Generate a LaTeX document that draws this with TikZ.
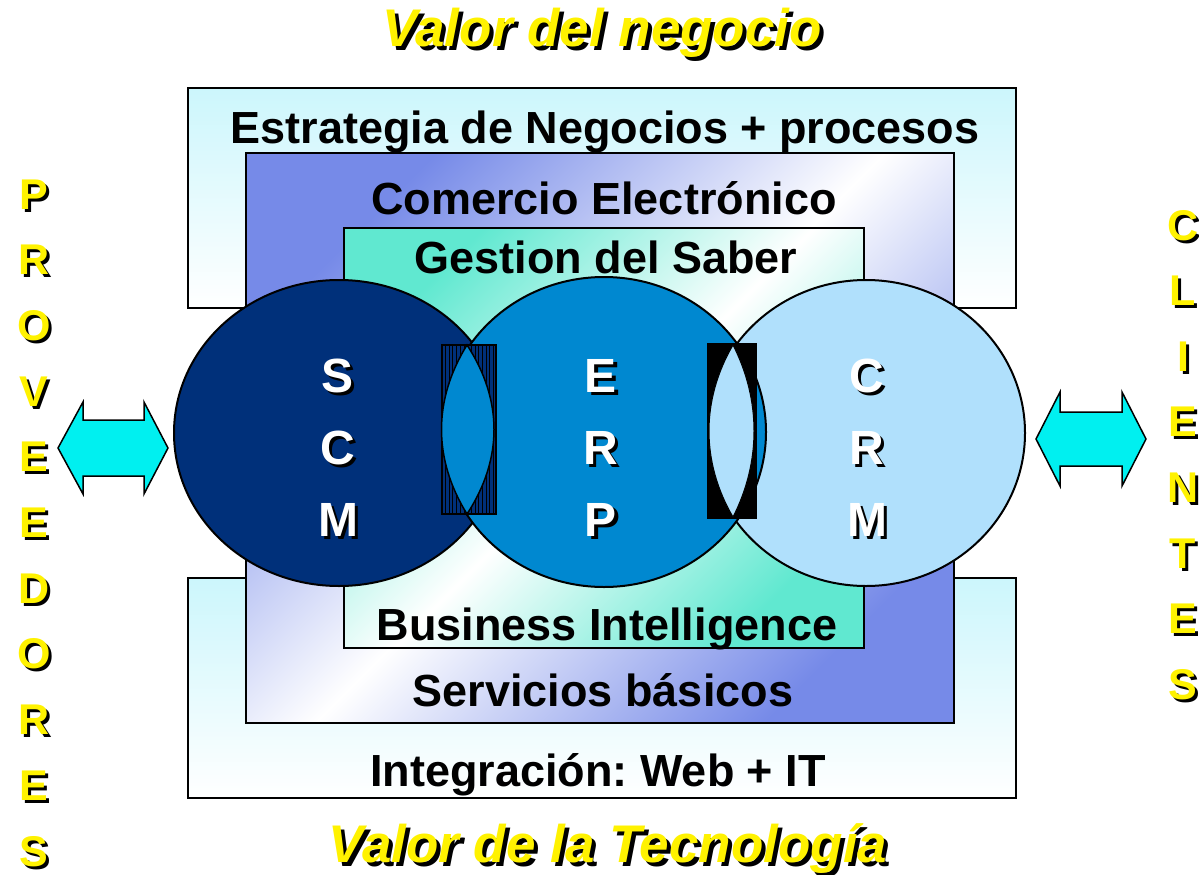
\documentclass[tikz,border=0pt]{standalone}
\usepackage{fontspec}
\setmainfont{Liberation Sans}
\frenchspacing
\definecolor{navy}{RGB}{0,48,122}
\definecolor{erpblue}{RGB}{0,136,208}
\definecolor{crmblue}{RGB}{176,224,252}
\definecolor{outercyan}{RGB}{204,246,252}
\definecolor{midblue}{RGB}{118,138,232}
\definecolor{tealc}{RGB}{96,232,208}
\definecolor{arrowcyan}{RGB}{0,240,240}
\tikzset{
  boxline/.style={draw=black, line width=2pt},
  boxtext/.style={font=\fontsize{45}{45}\selectfont\bfseries, anchor=base, inner sep=0pt},
  circline/.style={draw=black, line width=2pt},
  letw/.style={font=\fontsize{48}{48}\selectfont\bfseries, text=white, anchor=base, inner sep=0pt},
  lets/.style={font=\fontsize{48}{48}\selectfont\bfseries, text=black, anchor=base, inner sep=0pt},
  sidey/.style={font=\fontsize{43}{43}\selectfont\bfseries, text=yellow, anchor=base, inner sep=0pt},
  sides/.style={font=\fontsize{43}{43}\selectfont\bfseries, text=black, anchor=base, inner sep=0pt},
  titley/.style={font=\fontsize{53}{53}\selectfont\bfseries\itshape, text=yellow, anchor=base, inner sep=0pt},
  titles/.style={font=\fontsize{53}{53}\selectfont\bfseries\itshape, text=black, anchor=base, inner sep=0pt},
  dblarrow/.style={draw=black, line width=1.5pt, fill=arrowcyan, line join=miter},
}
\begin{document}
\begin{tikzpicture}[x=1pt,y=-1pt]
\useasboundingbox (0,0) rectangle (1199,875);
% outer boxes
\path[boxline, top color=outercyan, bottom color=white] (188,88) rectangle (1016,308);
\path[boxline, top color=outercyan, bottom color=white] (188,578) rectangle (1016,798);
% middle box
\path[boxline, top color=midblue, bottom color=midblue, middle color=white, shading angle=45] (246,153) rectangle (954,723);
% inner box
\path[boxline, top color=tealc, bottom color=tealc, middle color=white, shading angle=45] (344,228) rectangle (864,648);
% box texts
\node[boxtext] (estr) at (605,143) {Estrategia de Negocios + procesos};
\node[boxtext] (come) at (604,214) {Comercio Electrónico};
\node[boxtext] (gest) at (606,273) {Gestion del Saber};
\node[boxtext] (busi) at (607,640) {Business Intelligence};
\node[boxtext] (serv) at (603,706) {Servicios básicos};
\node[boxtext] (inte) at (598,786) {Integración: Web + IT};
% circles
\draw[circline, fill=navy] (339,433) ellipse [x radius=165, y radius=153];
\draw[circline, fill=crmblue] (866,433) ellipse [x radius=159, y radius=153];
\draw[circline, fill=erpblue] (604,432) ellipse [x radius=162, y radius=155];
% left overlap: hatched rectangle and lens
\draw[line width=1.5pt, fill=navy] (442,345) rectangle (496,514);
\foreach \i in {0,...,13} \draw[line width=1pt] ({445.5+3.7*\i},345) -- ({445.5+3.7*\i},514);
\draw[line width=1.5pt, fill=erpblue] (467,345) .. controls (433,400) and (433,459) .. (467,514) .. controls (503,459) and (503,400) .. (467,345) -- cycle;
% right overlap: black rectangle and lens
\fill[black] (707,343) rectangle (757,519);
\draw[line width=1pt, fill=crmblue] (733,345) .. controls (701,400) and (701,462) .. (733,517) .. controls (761,462) and (761,400) .. (733,345) -- cycle;
% circle letters
\foreach \l/\x/\y [count=\k] in {S/338/392, C/338/464, M/338/536, E/601/392, R/601/464, P/601/536, C/867/392, R/867/464, M/867/536} {
  \node[lets] (cs\k) at (\x+3,\y+3) {\l};
  \node[letw] (cw\k) at (\x,\y) {\l};
}
% double arrows
\draw[dblarrow] (58,448) -- (83,402) -- (83,420) -- (144,420) -- (144,402) -- (168,448) -- (144,494) -- (144,476) -- (83,476) -- (83,494) -- cycle;
\draw[dblarrow] (1036,439) -- (1060,392) -- (1060,412) -- (1122,412) -- (1122,392) -- (1146,439) -- (1122,486) -- (1122,466) -- (1060,466) -- (1060,486) -- cycle;
% side words
\foreach \l [count=\k from 0] in {P,R,O,V,E,E,D,O,R,E,S} {
  \node[sides] (ps\k) at (37, {209+65.7*\k+3}) {\l};
  \node[sidey] (py\k) at (34, {209+65.7*\k}) {\l};
}
\foreach \l [count=\k from 0] in {C,L,I,E,N,T,E,S} {
  \node[sides] (cls\k) at (1186, {240+65.6*\k+3}) {\l};
  \node[sidey] (cly\k) at (1183, {240+65.6*\k}) {\l};
}
% titles
\node[titles] (vns) at (606,51) {Valor del negocio};
\node[titley] (vny) at (602,47) {Valor del negocio};
\node[titles] (vts) at (612,866) {Valor de la Tecnología};
\node[titley] (vty) at (608,862) {Valor de la Tecnología};
\end{tikzpicture}
\end{document}
